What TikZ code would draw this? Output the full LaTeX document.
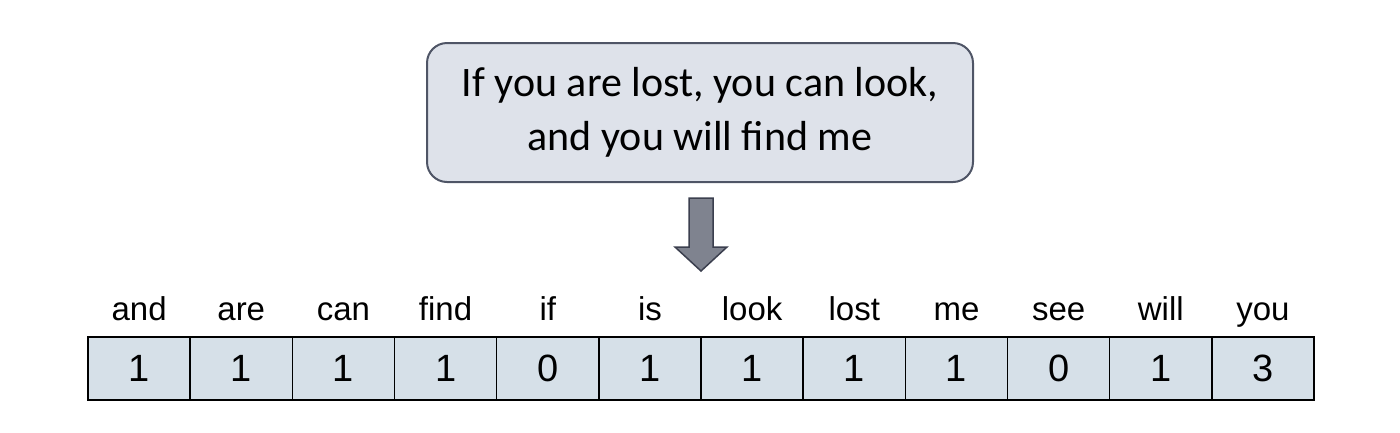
\documentclass[tikz,border=0pt]{standalone}
\usepackage{fontspec}
\setmainfont{Liberation Sans}
\newfontfamily\calibri{Carlito}
\usetikzlibrary{positioning}
\definecolor{boxfill}{HTML}{DEE2EA}
\definecolor{boxline}{HTML}{4F5566}
\definecolor{cellfill}{HTML}{D6E0E8}
\definecolor{arrowfill}{HTML}{7F838F}
\definecolor{arrowline}{HTML}{3B3F4E}
\begin{document}
\begin{tikzpicture}[x=1pt,y=-1pt,
	sentence/.style={draw=boxline, fill=boxfill, line width=2pt, rounded corners=20pt,
		minimum width=546pt, minimum height=139pt, align=center,
		font=\calibri\fontsize{42}{54}\selectfont},
	cell/.style={draw=black, fill=cellfill, line width=1.5pt, minimum width=102.2pt,
		minimum height=63pt, inner sep=0pt, font=\fontsize{38}{42}\selectfont},
	word/.style={anchor=base, inner sep=0pt, font=\fontsize{33}{36}\selectfont}]
	\useasboundingbox (0,0) rectangle (1400,432);
	\node[sentence] (text) at (700,112.5) {If you are lost, you can look,\\and you will find me};
	% block arrow
	\draw[draw=arrowline, fill=arrowfill, line width=1.5pt] (689,198) -- (713,198) -- (713,247)
	-- (727,247) -- (701,271) -- (675,247) -- (689,247) -- cycle;
	% bag of words
	\foreach \w/\n [count=\i from 0] in {and/1, are/1, can/1, find/1, if/0, is/1, look/1, lost/1, me/1, see/0, will/1, you/3}
	{
		\node[cell] (c\i) at ({88+102.17*(\i+0.5)},368.5) {\n};
		\node[word] (w\i) at ([yshift=16pt]c\i.north) {\w};
	}
\end{tikzpicture}
\end{document}
